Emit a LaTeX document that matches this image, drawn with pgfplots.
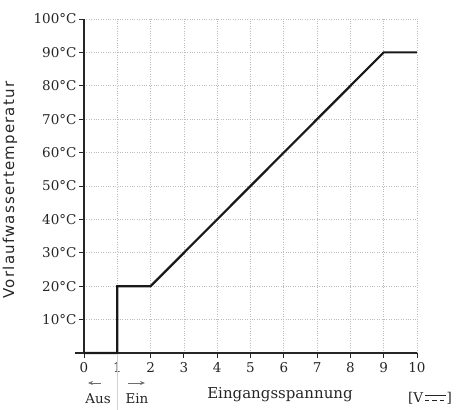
\documentclass[border=0pt]{standalone}
\usepackage{fontspec}
\setmainfont{DejaVu Serif}
\newfontfamily\labelfont[LetterSpace=8]{DejaVu Sans}
\usepackage{pgfplots}
\pgfplotsset{compat=1.18}
\usetikzlibrary{arrows.meta}

\definecolor{txt}{HTML}{262626}
\definecolor{gridc}{HTML}{BDBDBD}
\definecolor{arr}{HTML}{6E6E6E}

\begin{document}
\begin{tikzpicture}[x=1pt,y=1pt]
% picture frame in reference pixels, axis origin at (0,0)
\path[use as bounding box] (-84,-57) rectangle (375,353);

\begin{axis}[
	at={(0,0)}, anchor=origin,
	scale only axis,
	width=333pt, height=334pt,
	xmin=0, xmax=10, ymin=0, ymax=100,
	axis x line=bottom, axis y line=left,
	axis line style={-, line width=1.1pt, txt},
	tick align=outside,
	major tick length=5pt,
	tick style={line width=0.9pt, txt},
	xtick={0,1,...,10},
	xticklabels={0,1,2,3,4,5,6,7,8,9,10},
	ytick={10,20,...,100},
	yticklabels={10°C,20°C,30°C,40°C,50°C,60°C,70°C,80°C,90°C,100°C},
	ticklabel style={font=\fontsize{13.5}{15}\selectfont, text=txt},
	xticklabel style={yshift=-1pt},
	yticklabel style={xshift=1pt},
	grid=major,
	major grid style={gridc, dash pattern=on 0.8pt off 1.6pt, line width=0.6pt},
	clip=false,
]
\addplot[black!90, line width=2.2pt, line join=miter] coordinates {
	(0,0) (1,0) (1,20) (2,20) (9,90) (10,90)
};
\end{axis}

% extension of the x axis to the left
\draw[txt, line width=1.1pt] (-9,0) -- (0,0);

% on/off marker below the axis
\draw[gridc!70, line width=0.8pt] (33.3,-1) -- (33.3,-57);
\draw[-{Stealth[length=5pt,width=4pt]}, arr, line width=0.7pt] (17,-30) -- (4,-30);
\draw[-{Stealth[length=5pt,width=4pt]}, arr, line width=0.7pt] (44,-30) -- (61,-30);
\node[txt, font=\fontsize{13.5}{15}\selectfont] at (14,-46) {Aus};
\node[txt, font=\fontsize{13.5}{15}\selectfont] at (53,-46) {Ein};

% axis titles
\node[txt, font=\fontsize{15}{17}\selectfont] at (196,-42) {Eingangsspannung};
\node[txt, font=\labelfont\fontsize{15}{17}\selectfont, rotate=90] at (-74,163) {Vorlaufwassertemperatur};

% unit [V DC]
\node[txt, font=\fontsize{13.5}{15}\selectfont, anchor=west, inner sep=0pt] (v) at (324,-45) {[V};
\draw[txt, line width=0.7pt] ([xshift=1.5pt,yshift=2.5pt]v.east) -- ++(21,0);
\draw[txt, line width=0.7pt, dash pattern=on 4.5pt off 3pt] ([xshift=1.5pt,yshift=-2.5pt]v.east) -- ++(21,0);
\node[txt, font=\fontsize{13.5}{15}\selectfont, anchor=west, inner sep=0pt] at ([xshift=23pt]v.east) {]};
\end{tikzpicture}
\end{document}
